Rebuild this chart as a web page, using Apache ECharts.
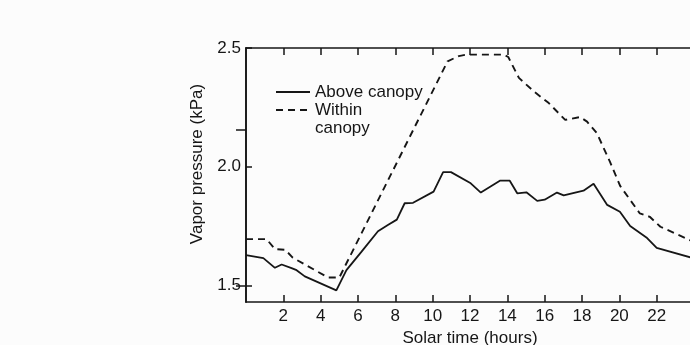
<!DOCTYPE html>
<html>
<head>
<meta charset="utf-8">
<script src="https://cdn.jsdelivr.net/npm/echarts@6/dist/echarts.min.js"></script>
<style>
  html, body { margin: 0; padding: 0; background: #fcfcfc; }
  #chart { width: 690px; height: 345px; }
</style>
</head>
<body>
<div id="chart"></div>
<script>
// 读图得到的数据:太阳时(小时)与水汽压(kPa)
const hoursAbove = [0, 0.93, 1.55, 1.91, 2.44, 2.71, 3.15, 4.84, 5.38, 6.18, 7.07, 7.6, 8.08, 8.5, 8.95, 10.05, 10.56, 10.98, 12.04, 12.58, 13.6, 14.13, 14.53, 15.02, 15.6, 16.0, 16.66, 17.02, 18.08, 18.62, 19.35, 20.03, 20.58, 21.45, 22.0, 23.8, 24]
const vpAbove    = [1.627, 1.615, 1.574, 1.588, 1.573, 1.564, 1.538, 1.479, 1.564, 1.641, 1.728, 1.754, 1.777, 1.846, 1.848, 1.895, 1.977, 1.977, 1.93, 1.891, 1.941, 1.941, 1.888, 1.892, 1.856, 1.861, 1.891, 1.879, 1.899, 1.928, 1.839, 1.81, 1.75, 1.702, 1.658, 1.618, 1.615]

const hoursWithin = [0, 1.1, 1.55, 2.1, 2.5, 4.4, 5.0, 10.8, 11.4, 11.8, 13.8, 14.05, 14.62, 15.42, 16.22, 17.1, 17.9, 18.27, 18.8, 19.5, 20.05, 21.1, 21.63, 22.2, 23.8, 24]
const vpWithin    = [1.695, 1.695, 1.653, 1.65, 1.617, 1.533, 1.533, 2.444, 2.466, 2.472, 2.472, 2.462, 2.374, 2.317, 2.268, 2.197, 2.209, 2.19, 2.141, 2.02, 1.918, 1.803, 1.789, 1.747, 1.69, 1.684]

const xTicks = [2, 4, 6, 8, 10, 12, 14, 16, 18, 20, 22]
const yTicks = [1.5, 2.0, 2.5]
const rightTicks = [1.5, 2.155] // 右侧另一坐标轴仅露出的刻度

const ink = '#161616'
const font = 'Liberation Sans'

const chart = echarts.init(document.getElementById('chart'))

const axisLine = { show: true, lineStyle: { color: ink, width: 1.6 } }
const tickStyle = { color: ink, width: 1.5 }
const textBase = { color: ink, fontFamily: font, fontSize: 17 }

// 图例:折线系列的图例默认带圆点,这里把圆点设为透明,只留线型
const legendBase = {
  orient: 'vertical',
  left: 270,
  top: 78,
  itemWidth: 34,
  itemHeight: 16,
  selectedMode: false,
  itemStyle: { color: 'rgba(0,0,0,0)', borderWidth: 0, opacity: 0 },
  textStyle: { ...textBase, lineHeight: 18 }
}

chart.setOption({
  animation: false,
  backgroundColor: '#fcfcfc',
  // v6 默认会把网格缩进画布内,这里关掉:右边框本来就在画面外
  grid: { left: 246, top: 48, width: 448, height: 254, outerBoundsMode: 'none' },
  legend: [
    { ...legendBase, data: ['Above canopy'] },
    // 两行文字前加一空行,使虚线与第一行 "Within" 对齐
    { ...legendBase, data: ['Within canopy'], formatter: () => '\nWithin\ncanopy' }
  ],
  xAxis: [
    {
      type: 'value',
      position: 'bottom',
      min: 0,
      max: 24,
      axisLine,
      axisTick: { inside: true, length: 7, customValues: xTicks, lineStyle: tickStyle },
      axisLabel: { ...textBase, customValues: xTicks, margin: 6 },
      splitLine: { show: false },
      name: 'Solar time (hours)',
      nameLocation: 'middle',
      nameGap: 24,
      nameTextStyle: textBase
    },
    {
      type: 'value',
      position: 'top',
      min: 0,
      max: 24,
      axisLine,
      axisTick: { inside: true, length: 7, customValues: xTicks, lineStyle: tickStyle },
      axisLabel: { show: false },
      splitLine: { show: false }
    }
  ],
  yAxis: [
    {
      type: 'value',
      position: 'left',
      min: 1.43,
      max: 2.5,
      axisLine,
      axisTick: { inside: true, length: 6, customValues: yTicks, lineStyle: tickStyle },
      axisLabel: { ...textBase, customValues: yTicks, margin: 5, formatter: (v) => v.toFixed(1) },
      splitLine: { show: false },
      name: 'Vapor pressure (kPa)',
      nameLocation: 'middle',
      nameGap: 40,
      nameTextStyle: { ...textBase, padding: [0, 0, 0, 22] }
    },
    {
      type: 'value',
      position: 'right',
      min: 1.43,
      max: 2.5,
      axisLine,
      axisTick: { inside: true, length: 10, customValues: rightTicks, lineStyle: tickStyle },
      axisLabel: { show: false },
      splitLine: { show: false }
    }
  ],
  series: [
    {
      name: 'Above canopy',
      type: 'line',
      symbol: 'none',
      lineStyle: { color: ink, width: 1.8 },
      itemStyle: { color: ink },
      data: hoursAbove.map((h, i) => [h, vpAbove[i]])
    },
    {
      name: 'Within canopy',
      type: 'line',
      symbol: 'none',
      lineStyle: { color: ink, width: 1.9, type: [7, 5] },
      itemStyle: { color: ink },
      data: hoursWithin.map((h, i) => [h, vpWithin[i]])
    }
  ]
})
</script>
</body>
</html>
